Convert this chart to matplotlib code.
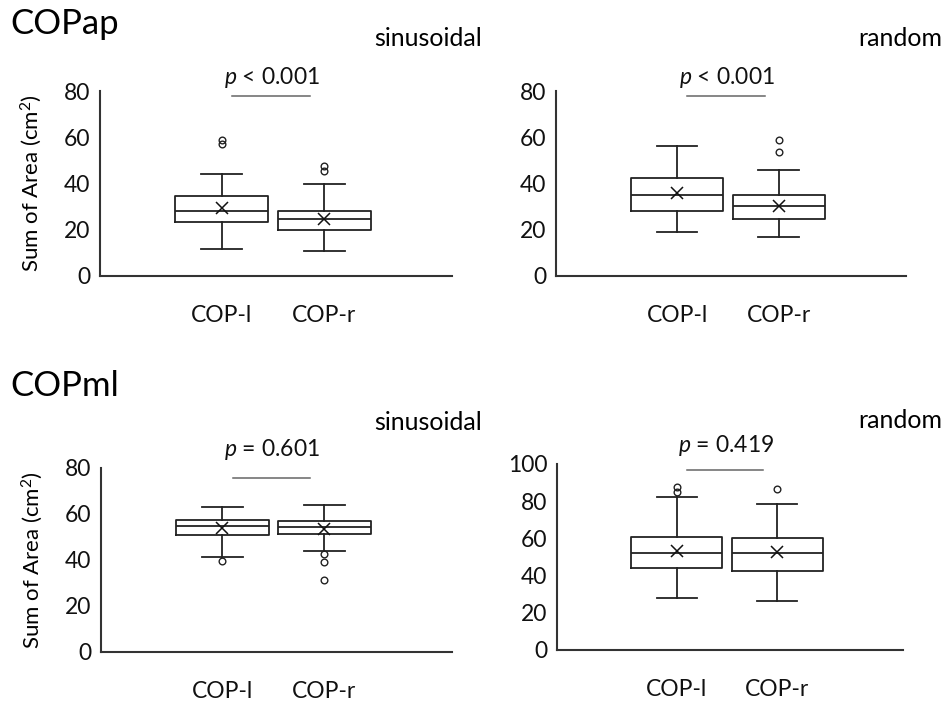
import matplotlib
matplotlib.use("Agg")
import matplotlib.pyplot as plt

plt.rcParams['font.family'] = ['Lato', 'DejaVu Sans']
plt.rcParams['mathtext.fontset'] = 'custom'
plt.rcParams['mathtext.it'] = 'Lato:italic'
plt.rcParams['mathtext.rm'] = 'Lato'

groups = ['COP-l', 'COP-r']

# box stats per panel: [COP-l, COP-r] -> (whislo, q1, med, q3, whishi, mean)
ap_sin_stats = [(11.5, 23.3, 28.3, 34.7, 44.3, 29.2), (10.6, 20.0, 24.5, 28.2, 39.7, 24.7)]
ap_sin_fliers = [[57.0, 59.0], [45.3, 47.5]]
ap_rnd_stats = [(19.1, 28.3, 35.1, 42.2, 56.3, 35.7), (17.0, 24.5, 30.4, 35.0, 45.9, 30.4)]
ap_rnd_fliers = [[], [53.5, 58.7]]
ml_sin_stats = [(41.4, 50.7, 54.7, 57.5, 63.1, 54.0), (43.8, 51.4, 54.3, 56.9, 64.0, 53.4)]
ml_sin_fliers = [[39.4], [31.2, 39.0, 42.5]]
ml_rnd_stats = [(27.8, 44.2, 52.4, 60.5, 82.0, 53.3), (26.2, 42.7, 52.1, 60.3, 78.3, 52.8)]
ml_rnd_fliers = [[84.9, 87.6], [86.5]]

p_texts = ['< 0.001', '< 0.001', '= 0.601', '= 0.419']
y_maxes = [80, 80, 80, 100]
sig_y = [78, 78, 75.8, 97]
p_y = [86, 86, 88, 110]

# axes rectangles in pixels: left, top, right, bottom
W, H = 948, 704
rects = [(100, 91, 452, 276), (556, 91, 906, 276),
         (101, 468, 452, 652), (557, 464, 903, 650)]

fig = plt.figure(figsize=(9.48, 7.04), dpi=100)

panels = [(ap_sin_stats, ap_sin_fliers), (ap_rnd_stats, ap_rnd_fliers),
          (ml_sin_stats, ml_sin_fliers), (ml_rnd_stats, ml_rnd_fliers)]

for i, (stats, fliers) in enumerate(panels):
    l, t, r, b = rects[i]
    ax = fig.add_axes([l / W, (H - b) / H, (r - l) / W, (b - t) / H])
    bxp_stats = []
    for name, s, f in zip(groups, stats, fliers):
        bxp_stats.append(dict(label=name, whislo=s[0], q1=s[1], med=s[2], q3=s[3],
                              whishi=s[4], mean=s[5], fliers=f))
    line_kw = dict(color='#222222', linewidth=1.3)
    ax.bxp(bxp_stats, positions=[1, 2], widths=0.91, showmeans=True,
           boxprops=line_kw, whiskerprops=line_kw, capprops=line_kw,
           medianprops=line_kw, capwidths=0.4,
           meanprops=dict(marker='x', markeredgecolor='#111111', markersize=9,
                          markeredgewidth=1.1),
           flierprops=dict(marker='o', markerfacecolor='none', markeredgecolor='#222222',
                           markersize=4.8, markeredgewidth=1.0))
    ax.set_xlim(-0.19, 3.25)
    ax.set_ylim(0, y_maxes[i])
    ax.set_yticks(range(0, y_maxes[i] + 1, 20))
    ax.tick_params(axis='both', length=0, labelsize=16.5, colors='#111111')
    ax.tick_params(axis='x', pad=21)
    ax.tick_params(axis='y', pad=7)
    for sp in ['top', 'right']:
        ax.spines[sp].set_visible(False)
    for sp in ['left', 'bottom']:
        ax.spines[sp].set_color('#333333')
        ax.spines[sp].set_linewidth(1.5)
    for art in ax.get_children():
        try:
            art.set_clip_on(False)
        except AttributeError:
            pass
    ax.plot([1.1, 1.86], [sig_y[i], sig_y[i]], color='#666666', lw=1.1, clip_on=False)
    ax.text(1.49, p_y[i], r'$\it{p}$ ' + p_texts[i], ha='center', va='center',
            fontsize=16.5, color='#111111')
    if i % 2 == 0:
        ax.set_ylabel('Sum of Area (cm$^2$)', fontsize=16, labelpad=14)

fig.text(10 / W, 1 - 24 / H, 'COPap', fontsize=25, va='center', ha='left')
fig.text(10 / W, 1 - 386 / H, 'COPml', fontsize=25, va='center', ha='left')
fig.text(482 / W, 1 - 38 / H, 'sinusoidal', fontsize=18, va='center', ha='right')
fig.text(942 / W, 1 - 38 / H, 'random', fontsize=18, va='center', ha='right')
fig.text(482 / W, 1 - 423 / H, 'sinusoidal', fontsize=18, va='center', ha='right')
fig.text(942 / W, 1 - 420 / H, 'random', fontsize=18, va='center', ha='right')

fig.savefig('out.png', dpi=100)
